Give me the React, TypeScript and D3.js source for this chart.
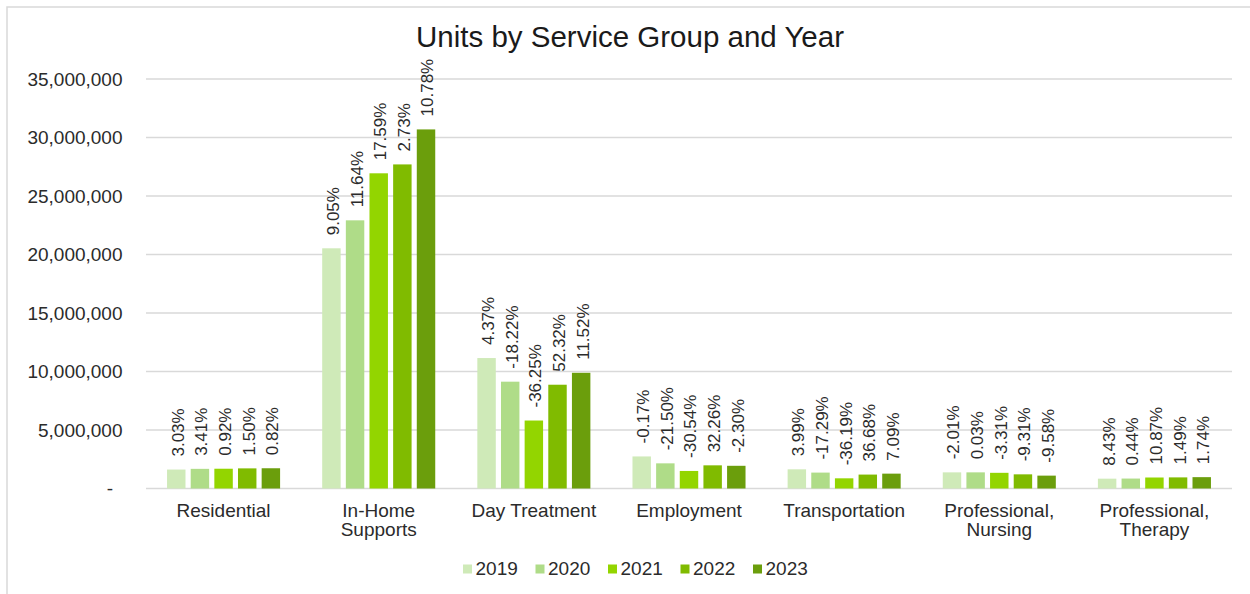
import React from "react";
import * as d3 from "d3";

const categories: string[][] = [
  ["Residential"],
  ["In-Home", "Supports"],
  ["Day Treatment"],
  ["Employment"],
  ["Transportation"],
  ["Professional,", "Nursing"],
  ["Professional,", "Therapy"],
];
const years = ["2019", "2020", "2021", "2022", "2023"];
const colors = ["#cfeab8", "#afdc88", "#93d500", "#80bb00", "#6b9e0c"];

// units per category, one array per year
const units2019 = [1620000, 20530000, 11150000, 2740000, 1640000, 1380000, 840000];
const units2020 = [1680000, 22920000, 9130000, 2150000, 1360000, 1380000, 850000];
const units2021 = [1690000, 26940000, 5810000, 1500000, 870000, 1340000, 940000];
const units2022 = [1720000, 27700000, 8870000, 1980000, 1190000, 1210000, 950000];
const units2023 = [1730000, 30690000, 9890000, 1940000, 1270000, 1100000, 970000];

// year-over-year change labels (%)
const pct2019 = [3.03, 9.05, 4.37, -0.17, 3.99, -2.01, 8.43];
const pct2020 = [3.41, 11.64, -18.22, -21.5, -17.29, 0.03, 0.44];
const pct2021 = [0.92, 17.59, -36.25, -30.54, -36.19, -3.31, 10.87];
const pct2022 = [1.5, 2.73, 52.32, 32.26, 36.68, -9.31, 1.49];
const pct2023 = [0.82, 10.78, 11.52, -2.3, 7.09, -9.58, 1.74];

const yTicks = [0, 5000000, 10000000, 15000000, 20000000, 25000000, 30000000, 35000000];

const unitsByYear = [units2019, units2020, units2021, units2022, units2023];
const pctByYear = [pct2019, pct2020, pct2021, pct2022, pct2023];

const W = 1250;
const H = 594;
const FONT = "Arial, 'Liberation Sans', sans-serif";

export default function App() {
  const catKeys = categories.map((c) => c.join(" "));
  const x0 = d3.scaleBand<string>().domain(catKeys).range([146, 1232]).paddingInner(0).paddingOuter(0);
  const x1 = d3
    .scaleBand<string>()
    .domain(years)
    .range([0, x0.bandwidth()])
    .paddingInner(0.22)
    .paddingOuter(0.89);
  const y = d3.scaleLinear().domain([0, 35000000]).range([488.5, 79]);
  const fmt = d3.format(",");
  const pfmt = (v: number) => v.toFixed(2) + "%";

  const legendX0 = 463;
  const legendStep = 72.5;

  return (
    <svg
      width={W}
      height={H}
      style={{ position: "absolute", left: 0, top: 0, display: "block", background: "#fff" }}
      fontFamily={FONT}
    >
      <rect x={7} y={7} width={W} height={H} fill="#fff" stroke="#d9d9d9" strokeWidth={1.5} />
      <text x={630} y={47} textAnchor="middle" fontSize={29.5} fill="#1a1a1a">
        Units by Service Group and Year
      </text>

      {yTicks.map((t) => (
        <g key={t}>
          <line x1={146} x2={1232} y1={y(t)} y2={y(t)} stroke="#d9d9d9" strokeWidth={1.5} />
          <text
            x={t === 0 ? 113 : 122.5}
            y={y(t)}
            dy="0.35em"
            textAnchor="end"
            fontSize={19}
            fill="#2b2b2b"
          >
            {t === 0 ? "-" : fmt(t)}
          </text>
        </g>
      ))}

      {catKeys.map((ck, ci) => (
        <g key={ck} transform={`translate(${x0(ck)},0)`}>
          {years.map((yr, yi) => {
            const v = unitsByYear[yi][ci];
            const bx = x1(yr)!;
            const cx = bx + x1.bandwidth() / 2;
            const ly = y(v) - 13;
            return (
              <g key={yr}>
                <rect x={bx} y={y(v)} width={x1.bandwidth()} height={y(0) - y(v)} fill={colors[yi]} />
                <text
                  transform={`translate(${cx + 1.5},${ly}) rotate(-90)`}
                  textAnchor="start"
                  dy="0.35em"
                  fontSize={17}
                  fill="#2b2b2b"
                >
                  {pfmt(pctByYear[yi][ci])}
                </text>
              </g>
            );
          })}
          {categories[ci].map((line, li) => (
            <text
              key={li}
              x={x0.bandwidth() / 2}
              y={516.5 + li * 19.5}
              textAnchor="middle"
              fontSize={19}
              fill="#2b2b2b"
            >
              {line}
            </text>
          ))}
        </g>
      ))}

      {years.map((yr, i) => (
        <g key={yr} transform={`translate(${legendX0 + i * legendStep},0)`}>
          <rect x={0} y={564.5} width={9} height={9} fill={colors[i]} />
          <text x={12.5} y={575} fontSize={19} fill="#2b2b2b">
            {yr}
          </text>
        </g>
      ))}
    </svg>
  );
}
